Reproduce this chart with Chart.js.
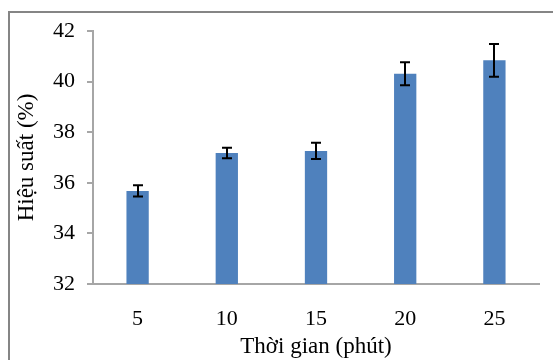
<!DOCTYPE html>
<html>
<head>
<meta charset="utf-8">
<script src="https://cdn.jsdelivr.net/npm/chart.js@4/dist/chart.umd.min.js"></script>
<style>
  html, body { margin: 0; padding: 0; background: #fff; overflow: hidden; }
  #wrap { position: relative; width: 553px; height: 360px; }
  #frame { position: absolute; left: 8px; top: 11px; width: 600px; height: 400px;
           border: 2px solid #858585; box-sizing: border-box; pointer-events: none; }
  canvas { position: absolute; left: 0; top: 0; }
</style>
</head>
<body>
<div id="wrap">
  <canvas id="myChart" width="553" height="360"></canvas>
  <div id="frame"></div>
</div>
<script>
// data
var times = ['5', '10', '15', '20', '25'];
var yieldPct = [35.68, 37.18, 37.26, 40.31, 40.84];
var errors = [0.22, 0.21, 0.32, 0.45, 0.65];
var yTicks = [32, 34, 36, 38, 40, 42];

var serif = "'Liberation Serif', 'Times New Roman', serif";

// error bars drawn from the y scale
var errorBars = {
  id: 'errorBars',
  afterDatasetsDraw: function (chart) {
    var ctx = chart.ctx;
    var y = chart.scales.y;
    var meta = chart.getDatasetMeta(0);
    ctx.save();
    ctx.strokeStyle = '#000';
    ctx.lineWidth = 2;
    meta.data.forEach(function (bar, i) {
      var top = y.getPixelForValue(yieldPct[i] + errors[i]);
      var bot = y.getPixelForValue(yieldPct[i] - errors[i]);
      var x = Math.round(bar.x);
      ctx.beginPath();
      ctx.moveTo(x, top); ctx.lineTo(x, bot);
      ctx.moveTo(x - 5, top); ctx.lineTo(x + 5, top);
      ctx.moveTo(x - 5, bot); ctx.lineTo(x + 5, bot);
      ctx.stroke();
    });
    ctx.restore();
  }
};

var ctx = document.getElementById('myChart');
var myChart = new Chart(ctx, {
  type: 'bar',
  data: {
    labels: times,
    datasets: [{
      data: yieldPct,
      backgroundColor: '#4F81BD',
      barPercentage: 0.25,
      categoryPercentage: 1
    }]
  },
  options: {
    responsive: false,
    animation: false,
    layout: { padding: { left: 0, top: 31, right: 14, bottom: 0 } },
    plugins: { legend: { display: false }, tooltip: { enabled: false } },
    scales: {
      x: {
        grid: { display: false, drawTicks: false },
        border: { color: '#a6a6a6', width: 2 },
        ticks: { color: '#000', padding: 22, font: { family: serif, size: 22 } },
        title: {
          display: true, text: 'Thời gian (phút)', color: '#000',
          font: { family: serif, size: 23 }, padding: { top: 0, bottom: -1 }
        },
        afterFit: function (s) { s.height = 76; }
      },
      y: {
        min: 32, max: 42,
        afterBuildTicks: function (s) { s.ticks = yTicks.map(function (v) { return { value: v }; }); },
        grid: { drawOnChartArea: false, drawTicks: true, tickLength: 6, color: '#a6a6a6', lineWidth: 2 },
        border: { color: '#a6a6a6', width: 2 },
        ticks: { color: '#000', padding: 12, font: { family: serif, size: 22 } },
        title: {
          display: true, text: 'Hiệu suất (%)', color: '#000',
          font: { family: serif, size: 23 }, padding: { top: 13, bottom: 0 }
        },
        afterFit: function (s) { s.width = 93; }
      }
    }
  },
  plugins: [errorBars]
});
</script>
</body>
</html>
